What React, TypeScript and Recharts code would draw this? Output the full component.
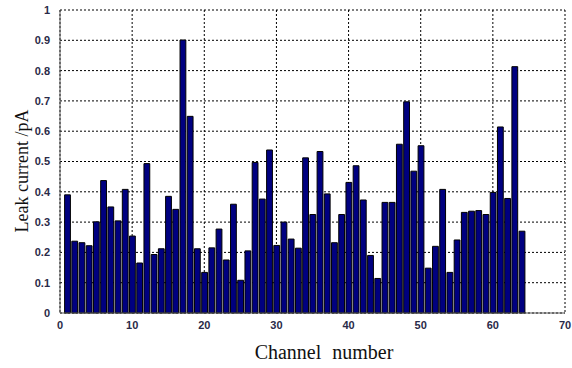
import { BarChart, Bar, XAxis, YAxis, CartesianGrid } from 'recharts';

const channels = Array.from({ length: 64 }, (_, i) => i + 1);

const leakCurrent = [
  0.39, 0.237, 0.232, 0.222, 0.301, 0.437, 0.35, 0.304, 0.408, 0.254,
  0.165, 0.493, 0.193, 0.212, 0.385, 0.342, 0.901, 0.649, 0.212, 0.134,
  0.215, 0.277, 0.175, 0.359, 0.108, 0.205, 0.497, 0.376, 0.538, 0.223,
  0.3, 0.244, 0.214, 0.512, 0.325, 0.533, 0.393, 0.232, 0.325, 0.431,
  0.486, 0.373, 0.19, 0.114, 0.365, 0.365, 0.557, 0.697, 0.468, 0.552,
  0.148, 0.22, 0.408, 0.134, 0.241, 0.332, 0.336, 0.338, 0.325, 0.398,
  0.614, 0.378, 0.813, 0.27,
];

const xTicks = [0, 10, 20, 30, 40, 50, 60, 70];
const yTicks = [0, 0.1, 0.2, 0.3, 0.4, 0.5, 0.6, 0.7, 0.8, 0.9, 1];

const data = channels.map((ch, i) => ({ channel: ch, value: leakCurrent[i] }));

const tickStyle = {
  fontFamily: 'Arial, "Liberation Sans", sans-serif',
  fontSize: 11,
  fontWeight: 600,
  fill: '#2a2a48',
};

const labelFont = '"Times New Roman", "Liberation Serif", serif';

export default function App() {
  return (
    <div style={{ position: 'absolute', left: 0, top: 0, width: 572, height: 368, background: '#fff' }}>
      <BarChart
        width={572}
        height={368}
        data={data}
        margin={{ top: 10, right: 7, left: 0, bottom: 0 }}
      >
        <CartesianGrid stroke="#000" strokeDasharray="2 2" strokeWidth={1} />
        <XAxis
          dataKey="channel"
          type="number"
          domain={[0, 70]}
          ticks={xTicks}
          height={55}
          tickLine={false}
          stroke="#555"
          tick={tickStyle}
          tickMargin={2}
        />
        <XAxis xAxisId="top" orientation="top" type="number" domain={[0, 70]} height={0} tick={false} tickLine={false} stroke="#555" />
        <YAxis
          type="number"
          domain={[0, 1]}
          ticks={yTicks}
          width={60}
          tickLine={false}
          stroke="#555"
          tick={tickStyle}
          tickMargin={4}
        />
        <YAxis yAxisId="right" orientation="right" domain={[0, 1]} width={0} tick={false} tickLine={false} stroke="#555" />
        <Bar dataKey="value" fill="#000080" stroke="#000" strokeWidth={1} barSize={5.8} isAnimationActive={false} />
      </BarChart>
      <div
        style={{
          position: 'absolute',
          left: 22,
          top: 171,
          transform: 'translate(-50%, -50%) rotate(-90deg)',
          fontFamily: labelFont,
          fontSize: 18,
          whiteSpace: 'nowrap',
          color: '#111',
        }}
      >
        Leak current /pA
      </div>
      <div
        style={{
          position: 'absolute',
          left: 324,
          top: 352,
          transform: 'translate(-50%, -50%)',
          fontFamily: labelFont,
          fontSize: 20,
          whiteSpace: 'nowrap',
          color: '#111',
          wordSpacing: 6,
        }}
      >
        Channel number
      </div>
    </div>
  );
}
